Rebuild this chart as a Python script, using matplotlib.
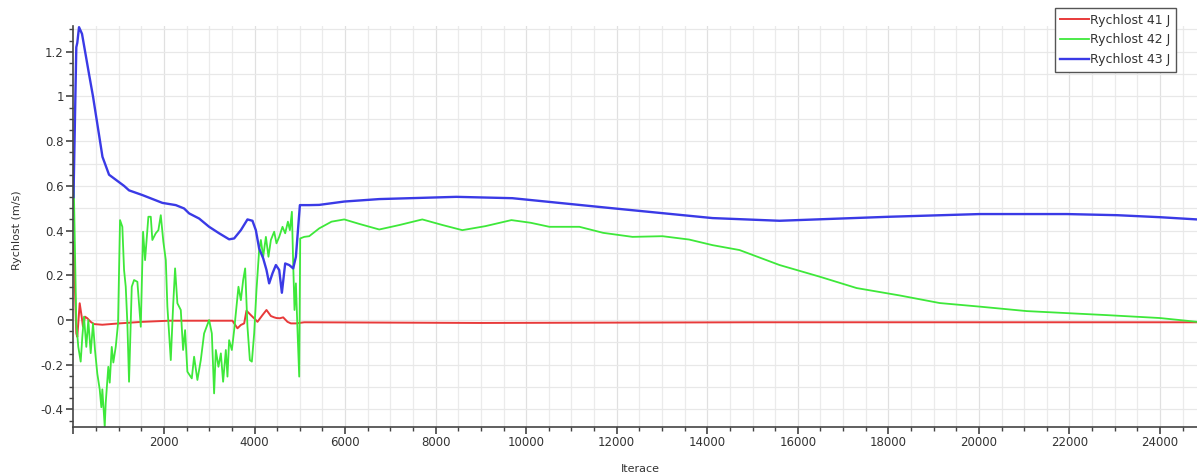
import numpy as np
import matplotlib
matplotlib.use("Agg")
import matplotlib.pyplot as plt
from matplotlib.ticker import MultipleLocator, FuncFormatter

# iterations / values
it_41 = [0, 62, 84, 137, 181, 210, 254, 305, 380, 453, 637, 1006, 1521, 2112, 2775,
         3511, 3622, 3697, 3770, 3821, 3918, 4028, 4064, 4174, 4263, 4360, 4433,
         4484, 4559, 4632, 4727, 4802, 4913, 5097, 9000, 15000, 20000, 24818]
v_41 = [0.35, -0.06, -0.075, 0.075, 0.015, -0.03, 0.015, 0.008, -0.008, -0.018, -0.021,
        -0.015, -0.008, -0.003, -0.003, -0.003, -0.037, -0.022, -0.015, 0.042, 0.022,
        0.0, -0.008, 0.022, 0.045, 0.018, 0.012, 0.009, 0.008, 0.012, -0.008, -0.015,
        -0.015, -0.01, -0.013, -0.01, -0.01, -0.01]

it_42 = [0, 11, 62, 106, 159, 195, 232, 283, 327, 380, 431, 475, 526, 579, 615, 637,
         690, 712, 769, 800, 845, 880, 933, 984, 1028, 1079, 1117, 1154, 1190, 1227,
         1287, 1338, 1411, 1486, 1537, 1581, 1654, 1707, 1742, 1817, 1875, 1928, 1985,
         2039, 2074, 2149, 2200, 2244, 2295, 2370, 2421, 2465, 2516, 2613, 2664, 2737,
         2812, 2885, 2996, 3056, 3106, 3144, 3202, 3255, 3305, 3365, 3401, 3438, 3498,
         3549, 3600, 3644, 3697, 3748, 3792, 3843, 3896, 3940, 3991, 4042, 4101, 4139,
         4190, 4250, 4307, 4360, 4433, 4484, 4544, 4617, 4676, 4736, 4780, 4824, 4853,
         4882, 4913, 4948, 4986, 5008, 5097, 5207, 5428, 5700, 5981, 6312, 6754, 7200,
         7705, 8150, 8589, 9100, 9673, 10100, 10513, 11176, 11700, 12348, 13011, 13600,
         14116, 14713, 15597, 16482, 17300, 18250, 19135, 20018, 21057, 22826, 23998,
         24818]
v_42 = [0.63, 0.55, -0.015, -0.12, -0.186, -0.075, 0.015, -0.12, 0.0, -0.148, -0.015,
        -0.134, -0.24, -0.31, -0.39, -0.31, -0.477, -0.37, -0.209, -0.28, -0.12, -0.19,
        -0.12, -0.015, 0.447, 0.417, 0.224, 0.149, -0.015, -0.276, 0.149, 0.179, 0.171,
        -0.03, 0.395, 0.268, 0.462, 0.462, 0.358, 0.388, 0.402, 0.469, 0.35, 0.268,
        0.06, -0.179, 0.06, 0.231, 0.075, 0.045, -0.134, -0.045, -0.231, -0.261,
        -0.164, -0.268, -0.179, -0.06, 0.0, -0.06, -0.328, -0.134, -0.209, -0.149,
        -0.276, -0.134, -0.253, -0.09, -0.134, -0.045, 0.06, 0.149, 0.089, 0.179,
        0.231, -0.03, -0.179, -0.186, -0.06, 0.134, 0.313, 0.358, 0.283, 0.372, 0.283,
        0.358, 0.395, 0.343, 0.372, 0.417, 0.388, 0.44, 0.402, 0.484, 0.253, 0.045,
        0.164, -0.045, -0.253, 0.365, 0.372, 0.375, 0.41, 0.44, 0.45, 0.43, 0.405,
        0.425, 0.45, 0.425, 0.402, 0.42, 0.447, 0.435, 0.417, 0.417, 0.39, 0.372,
        0.375, 0.36, 0.335, 0.313, 0.246, 0.194, 0.143, 0.11, 0.076, 0.06, 0.04, 0.022,
        0.009, -0.008]

it_43 = [0, 62, 84, 122, 188, 343, 431, 586, 640, 785, 1117, 1227, 1521, 1963, 2260,
         2443, 2554, 2775, 2996, 3217, 3438, 3549, 3697, 3843, 3953, 4028, 4101, 4190,
         4263, 4322, 4396, 4471, 4544, 4603, 4676, 4765, 4853, 4913, 5001, 5207, 5428,
         5981, 6754, 8456, 9694, 11905, 14116, 15597, 18029, 20018, 21942, 23048,
         23998, 24818]
v_43 = [0.55, 1.22, 1.24, 1.31, 1.28, 1.1, 1.0, 0.8, 0.73, 0.65, 0.6, 0.58, 0.559,
        0.524, 0.514, 0.499, 0.477, 0.454, 0.417, 0.388, 0.361, 0.365, 0.402, 0.45,
        0.444, 0.402, 0.32, 0.276, 0.224, 0.164, 0.209, 0.246, 0.224, 0.122, 0.253,
        0.246, 0.231, 0.283, 0.514, 0.514, 0.515, 0.53, 0.541, 0.551, 0.545, 0.50,
        0.456, 0.444, 0.462, 0.474, 0.474, 0.469, 0.46, 0.45]

labels = ["Rychlost 41 J", "Rychlost 42 J", "Rychlost 43 J"]
colors = ["#e83a3a", "#3ee83a", "#3a3ae6"]

fig = plt.figure(figsize=(11.97, 4.74), dpi=100)
ax = fig.add_axes([0.0614, 0.0998, 0.9386, 0.8453])

ax.plot(it_41, v_41, color=colors[0], lw=1.4, label=labels[0])
ax.plot(it_42, v_42, color=colors[1], lw=1.3, label=labels[1])
ax.plot(it_43, v_43, color=colors[2], lw=1.7, label=labels[2])

ax.set_xlim(0, 24818)
ax.set_ylim(-0.477, 1.315)

ax.xaxis.set_major_locator(MultipleLocator(2000))
ax.xaxis.set_minor_locator(MultipleLocator(500))
ax.yaxis.set_major_locator(MultipleLocator(0.2))
ax.yaxis.set_minor_locator(MultipleLocator(0.05))
ax.xaxis.set_major_formatter(FuncFormatter(lambda v, p: "" if v == 0 else "%d" % v))
ax.yaxis.set_major_formatter(FuncFormatter(lambda v, p: "%g" % round(v, 2)))

# grid: every 500 in x, every 0.1 in y
for xv in np.arange(500, 25000, 500):
    ax.axvline(xv, color="#ebebeb" if xv % 2000 else "#e0e0e0", lw=0.9, zorder=0)
for yv in np.arange(-0.4, 1.35, 0.1):
    ax.axhline(yv, color="#e8e8e8", lw=0.9, zorder=0)

for s in ["top", "right"]:
    ax.spines[s].set_visible(False)
for s in ["left", "bottom"]:
    ax.spines[s].set_color("#444444")
    ax.spines[s].set_linewidth(1.2)

ax.tick_params(which="major", length=5, width=1.2, color="#444444",
               labelsize=8.5, labelcolor="#333333", pad=2)
ax.tick_params(which="minor", length=3, width=1.0, color="#444444")

fig.text(0.535, 0.0, "Iterace", ha="center", va="bottom", fontsize=8, color="#333333")
fig.text(0.014, 0.515, "Rychlost (m/s)", rotation=90, ha="center", va="center",
         fontsize=8, color="#333333")

leg = fig.legend(loc="upper right", bbox_to_anchor=(1176 / 1197, 1 - 8 / 474),
                 fontsize=9, fancybox=False, framealpha=1, edgecolor="#555555",
                 handlelength=2.3, handletextpad=0.1, borderpad=0.45,
                 labelspacing=0.55, borderaxespad=0)
leg.get_frame().set_linewidth(1.0)
for t in leg.get_texts():
    t.set_color("#333333")

fig.savefig("out.png", dpi=100)
